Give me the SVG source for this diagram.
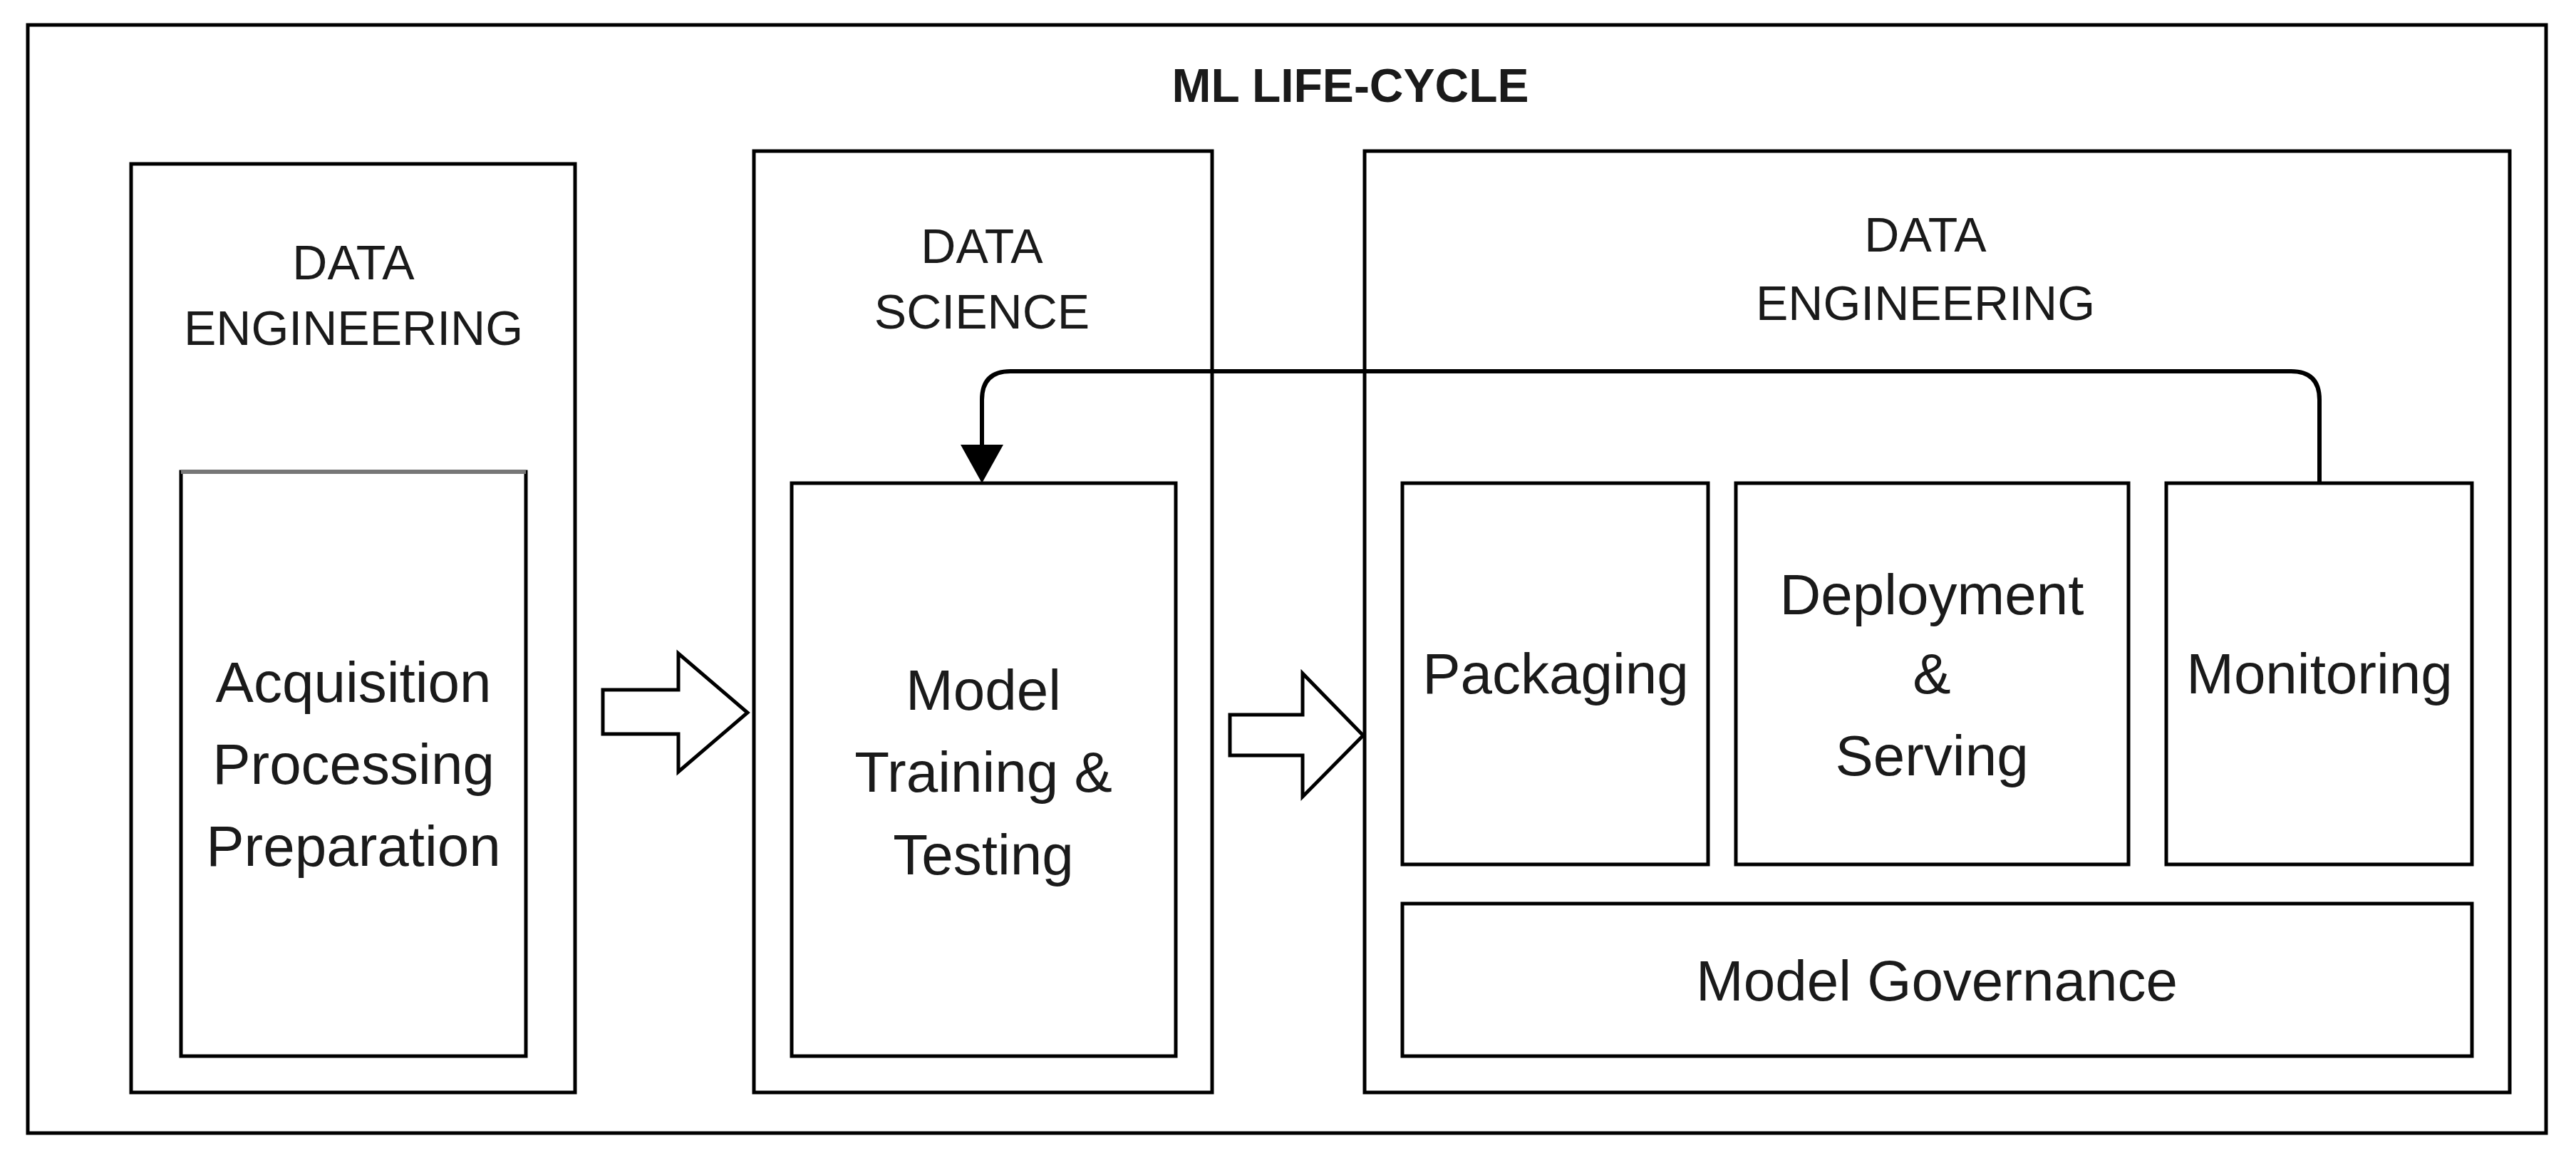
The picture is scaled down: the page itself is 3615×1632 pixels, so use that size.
<svg xmlns="http://www.w3.org/2000/svg" width="3615" height="1632" viewBox="0 0 3615 1632">
<style>
.b{fill:#fff;stroke:#000;stroke-width:5}
.t{font-family:"Liberation Sans",Arial,sans-serif;fill:#1a1a1a;text-anchor:middle}
.h{font-size:68px}
.m{font-size:80px}
</style>
<defs><marker id="ah" markerWidth="10" markerHeight="10" refX="8" refY="5" orient="auto" markerUnits="strokeWidth"><path d="M0,0 L9,5 L0,10 Z" fill="#000"/></marker></defs>
<rect width="3615" height="1632" fill="#fff"/>
<g id="outer"><rect class="b" x="39" y="35" width="3534" height="1555"/>
<text class="t" x="1895" y="143" font-size="66" font-weight="bold" fill="#000">ML LIFE-CYCLE</text></g>
<g id="de1"><rect class="b" x="184" y="230" width="623" height="1303"/>
<text class="t h" x="496" y="392">DATA</text><text class="t h" x="496" y="484">ENGINEERING</text></g>
<g id="acq"><rect class="b" x="254" y="662" width="484" height="820"/><line x1="254" y1="662" x2="738" y2="662" stroke="#777" stroke-width="6"/>
<text class="t m" x="496" y="985">Acquisition</text><text class="t m" x="496" y="1100">Processing</text><text class="t m" x="496" y="1215">Preparation</text></g>
<g id="ds"><rect class="b" x="1058" y="212" width="643" height="1321"/>
<text class="t h" x="1378" y="369">DATA</text><text class="t h" x="1378" y="461">SCIENCE</text></g>
<g id="model"><rect class="b" x="1111" y="678" width="539" height="804"/>
<text class="t m" x="1380" y="996">Model</text><text class="t m" x="1380" y="1111">Training &amp;</text><text class="t m" x="1380" y="1227">Testing</text></g>
<g id="de2"><rect class="b" x="1915" y="212" width="1607" height="1321"/>
<text class="t h" x="2702" y="353">DATA</text><text class="t h" x="2702" y="449">ENGINEERING</text></g>
<g id="pack"><rect class="b" x="1968" y="678" width="429" height="535"/><text class="t m" x="2183" y="973">Packaging</text></g>
<g id="deploy"><rect class="b" x="2436" y="678" width="551" height="535"/>
<text class="t m" x="2711" y="862">Deployment</text><text class="t m" x="2711" y="973">&amp;</text><text class="t m" x="2711" y="1088">Serving</text></g>
<g id="mon"><rect class="b" x="3040" y="678" width="429" height="535"/><text class="t m" x="3255" y="973">Monitoring</text></g>
<g id="gov"><rect class="b" x="1968" y="1268" width="1501" height="214"/><text class="t m" x="2718" y="1404">Model Governance</text></g>
<g id="connectors">
<path d="M3255,678 V561 Q3255,521 3215,521 H1418 Q1378,521 1378,561 V672" fill="none" stroke="#000" stroke-width="6" marker-end="url(#ah)"/>
<path class="b" d="M846,968 H952 V917 L1049,1000 L952,1083 V1030 H846 Z" stroke-width="4"/>
<path class="b" d="M1726,1003 H1828 V945 L1913,1032 L1828,1118 V1060 H1726 Z" stroke-width="4"/>
</g>
</svg>
